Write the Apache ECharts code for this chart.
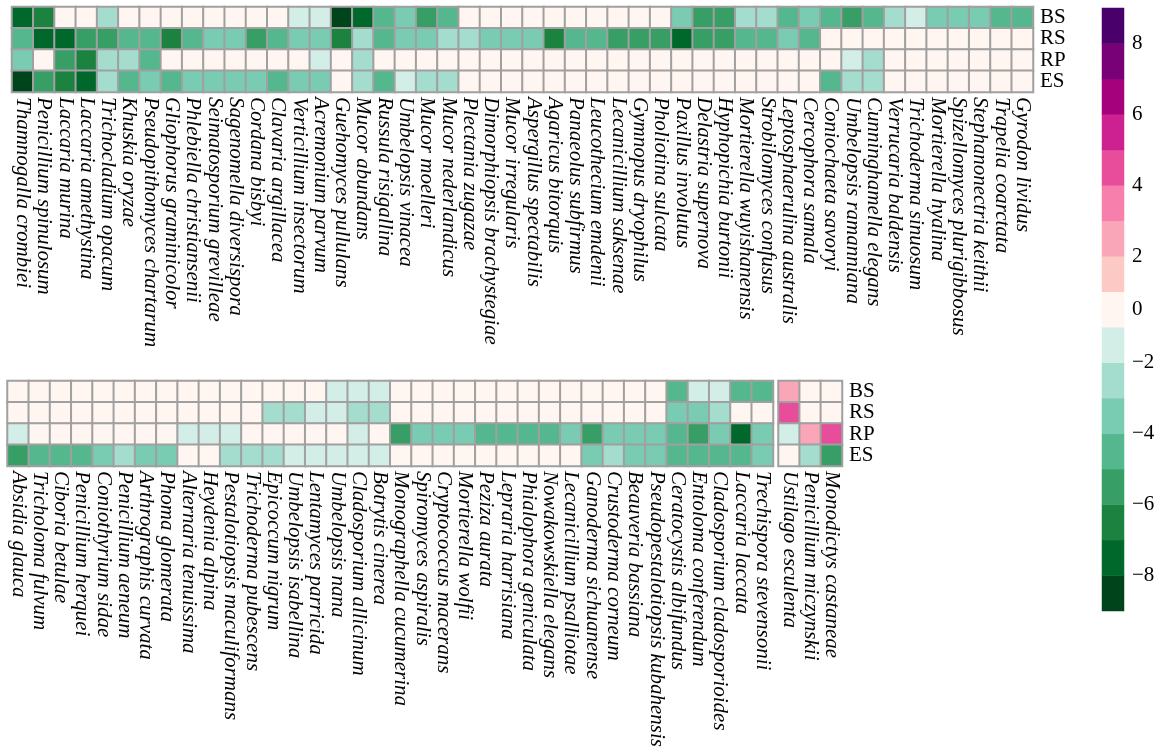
<!DOCTYPE html>
<html>
<head>
<meta charset="utf-8">
<script src="https://cdn.jsdelivr.net/npm/echarts@6/dist/echarts.min.js"></script>
<style>
  html, body { margin: 0; padding: 0; background: #ffffff; }
  #chart { width: 1161px; height: 755px; }
</style>
</head>
<body>
<div id="chart"></div>
<script>
// Compartments (rows, top to bottom)
const rowNames = ['BS', 'RS', 'RP', 'ES'];

// Upper block of taxa
const topTaxa = [
  'Thamnogalla crombiei', 'Penicillium spinulosum', 'Laccaria murina', 'Laccaria amethystina',
  'Trichocladium opacum', 'Khuskia oryzae', 'Pseudopithomyces chartarum', 'Gliophorus graminicolor',
  'Phlebiella christiansenii', 'Seimatosporium grevilleae', 'Sagenomella diversispora', 'Cordana bisbyi',
  'Clavaria argillacea', 'Verticillium insectorum', 'Acremonium parvum', 'Guehomyces pullulans',
  'Mucor abundans', 'Russula risigallina', 'Umbelopsis vinacea', 'Mucor moelleri',
  'Mucor nederlandicus', 'Plectania zugazae', 'Dimorphiopsis brachystegiae', 'Mucor irregularis',
  'Aspergillus spectabilis', 'Agaricus bitorquis', 'Panaeolus subfirmus', 'Leucothecium emdenii',
  'Lecanicillium saksenae', 'Gymnopus dryophilus', 'Pholiotina sulcata', 'Paxillus involutus',
  'Delastria supernova', 'Hyphopichia burtonii', 'Mortierella wuyishanensis', 'Strobilomyces confusus',
  'Leptosphaerulina australis', 'Cercophora samala', 'Coniochaeta savoryi', 'Umbelopsis ramanniana',
  'Cunninghamella elegans', 'Verrucaria baldensis', 'Trichoderma sinuosum', 'Mortierella hyalina',
  'Spizellomyces plurigibbosus', 'Stephanonectria keithii', 'Trapelia coarctata', 'Gyrodon lividus'
];
const topBS = [-7.5, -6.5, 0, 0, -2.5, 0, 0, 0, 0, 0, 0, 0, 0, -1.5, -1.5, -8.5,
  -7.5, -4.5, -3.5, -5.5, -4.5, 0, 0, 0, 0, 0, 0, 0, 0, 0, 0, -3.5,
  -5.5, -5.5, -2.5, -2.5, -4.5, -3.5, -4.5, -5.5, -4.5, -2.5, -1.5, -3.5, -3.5, -3.5, -4.5, -4.5];
const topRS = [-4.5, -7.5, -7.5, -5.5, -5.5, -4.5, -4.5, -6.5, -4.5, -3.5, -3.5, -5.5, -4.5, -3.5, -3.5, -6.5,
  -2.5, -4.5, -3.5, -3.5, -2.5, -2.5, -3.5, -3.5, -3.5, -6.5, -4.5, -4.5, -5.5, -5.5, -5.5, -7.5,
  -5.5, -5.5, -4.5, -4.5, -3.5, -4.5, 0, 0, 0, 0, 0, 0, 0, 0, 0, 0];
const topRP = [-3.5, 0, -5.5, -6.5, -2.5, -2.5, -4.5, 0, 0, 0, 0, 0, 0, 0, -1.5, 0,
  -2.5, 0, 0, 0, 0, 0, 0, 0, 0, 0, 0, 0, 0, 0, 0, 0,
  0, 0, 0, 0, 0, 0, 0, -1.5, -2.5, 0, 0, 0, 0, 0, 0, 0];
const topES = [-8.5, -5.5, -6.5, -7.5, -2.5, -4.5, -3.5, -4.5, -3.5, -3.5, -3.5, -3.5, -4.5, -3.5, -3.5, 0,
  -2.5, -4.5, -1.5, -2.5, -2.5, 0, 0, 0, 0, 0, 0, 0, 0, 0, 0, 0,
  0, 0, 0, 0, 0, 0, -4.5, -2.5, -2.5, 0, 0, 0, 0, 0, 0, 0];

// Lower block of taxa
const bottomTaxa = [
  'Absidia glauca', 'Tricholoma fulvum', 'Ciboria betulae', 'Penicillium herquei',
  'Coniothyrium sidae', 'Penicillium aeneum', 'Arthrographis curvata', 'Phoma glomerata',
  'Alternaria tenuissima', 'Heydenia alpina', 'Pestalotiopsis maculiformans', 'Trichoderma pubescens',
  'Epicoccum nigrum', 'Umbelopsis isabellina', 'Lentamyces parricida', 'Umbelopsis nana',
  'Cladosporium allicinum', 'Botrytis cinerea', 'Monographella cucumerina', 'Spiromyces aspiralis',
  'Cryptococcus macerans', 'Mortierella wolfii', 'Peziza aurata', 'Lepraria harrisiana',
  'Phialophora geniculata', 'Nowakowskiella elegans', 'Lecanicillium psalliotae', 'Ganoderma sichuanense',
  'Crustoderma corneum', 'Beauveria bassiana', 'Pseudopestalotiopsis kubahensis', 'Ceratocystis albifundus',
  'Entoloma conferendum', 'Cladosporium cladosporioides', 'Laccaria laccata', 'Trechispora stevensonii'
];
const bottomBS = [0, 0, 0, 0, 0, 0, 0, 0, 0, 0, 0, 0, 0, 0, 0, -1.5, -1.5, -1.5,
  0, 0, 0, 0, 0, 0, 0, 0, 0, 0, 0, 0, 0, -4.5, -1.5, -1.5, -4.5, -4.5];
const bottomRS = [0, 0, 0, 0, 0, 0, 0, 0, 0, 0, 0, 0, -2.5, -2.5, -1.5, -1.5, -2.5, -2.5,
  0, 0, 0, 0, 0, 0, 0, 0, 0, 0, 0, 0, 0, -3.5, -3.5, -2.5, 0, 0];
const bottomRP = [-1.5, 0, 0, 0, 0, 0, 0, 0, -1.5, -1.5, -1.5, 0, 0, 0, 0, 0, -1.5, 0,
  -5.5, -3.5, -3.5, -3.5, -4.5, -4.5, -4.5, -4.5, -3.5, -5.5, -3.5, -3.5, -3.5, -4.5, -5.5, -3.5, -7.5, -3.5];
const bottomES = [-5.5, -4.5, -4.5, -4.5, -3.5, -2.5, -3.5, -3.5, 0, 0, -2.5, -2.5, -2.5, -1.5, -1.5, -1.5, -1.5, -1.5,
  0, 0, 0, 0, 0, 0, 0, 0, 0, -3.5, -2.5, -3.5, -3.5, -4.5, -4.5, -4.5, -4.5, -3.5];

// Separate small block
const sideTaxa = ['Ustilago esculenta', 'Penicillium miczynskii', 'Monodictys castaneae'];
const sideBS = [2.5, 0, 0];
const sideRS = [4.5, 0, 0];
const sideRP = [-1.5, 2.5, 4.5];
const sideES = [0, -2.5, -5.5];

// Colour scale: 17 bins, the centre bin spans -1..1
const binEdges = [-9, -8, -7, -6, -5, -4, -3, -2, -1, 1, 2, 3, 4, 5, 6, 7, 8, 9];
const binColors = ['#00441b', '#00682a', '#1c8240', '#379e66', '#55b78e', '#79cbb2', '#a4dcce', '#d3eee7',
  '#fff5f1', '#fcc9c4', '#f9a6b8', '#f67fab', '#e74d9b', '#cd2091', '#a5017d', '#790177', '#4a006a'];
const barTickLabels = ['\u22128', '\u22126', '\u22124', '\u22122', '0', '2', '4', '6', '8'];

// ---------------------------------------------------------------
const serif = "'Liberation Serif', 'Times New Roman', serif";

function cells(rows) {
  const out = [];
  rows.forEach(function (row, r) {
    row.forEach(function (v, c) { out.push([c, r, v]); });
  });
  return out;
}

const pieces = binColors.map(function (col, i) {
  return { gte: binEdges[i], lt: binEdges[i + 1], color: col };
});
pieces[pieces.length - 1].lte = binEdges[binEdges.length - 1];
delete pieces[pieces.length - 1].lt;

// colour bar: one cell per bin, valued at the bin centre
const barBins = binColors.map(function (c, i) { return String(i); });
const barCells = binColors.map(function (c, i) {
  return [0, i, (binEdges[i] + binEdges[i + 1]) / 2];
});
// label positions measured in bin units along the bar
const barLabelPos = {};
barTickLabels.forEach(function (t, k) {
  const v = k < 4 ? -8 + 2 * k : (k === 4 ? 0 : 2 * (k - 4));
  let pos;
  if (v === 0) pos = 8.5;
  else if (v < 0) pos = v + 9;
  else pos = v + 8;
  barLabelPos[pos] = t;
});

const cellStyle = { borderColor: '#a0a0a0', borderWidth: 2 };

function taxonAxis(grid, names) {
  return {
    type: 'category', gridIndex: grid, data: names, position: 'bottom',
    axisLine: { show: false }, axisTick: { show: false }, splitLine: { show: false },
    axisLabel: {
      interval: 0, rotate: -90, margin: 5, color: '#000',
      fontFamily: serif, fontStyle: 'italic', fontSize: 21
    }
  };
}
function rowAxis(grid, showLabels) {
  return {
    type: 'category', gridIndex: grid, data: rowNames, inverse: true, position: 'right',
    axisLine: { show: false }, axisTick: { show: false }, splitLine: { show: false },
    axisLabel: { show: showLabels, interval: 0, margin: 7, color: '#000', fontFamily: serif, fontSize: 21 }
  };
}

const option = {
  animation: false,
  backgroundColor: '#ffffff',
  grid: [
    { left: 12, top: 7, width: 1021, height: 85 },
    { left: 7.5, top: 381, width: 765.5, height: 85 },
    { left: 778.5, top: 381, width: 63.5, height: 85 },
    { left: 1102, top: 8, width: 22, height: 603 }
  ],
  xAxis: [
    taxonAxis(0, topTaxa),
    taxonAxis(1, bottomTaxa),
    taxonAxis(2, sideTaxa),
    { type: 'category', gridIndex: 3, data: ['bar'], show: false }
  ],
  yAxis: [
    rowAxis(0, true),
    rowAxis(1, false),
    rowAxis(2, true),
    { type: 'category', gridIndex: 3, data: barBins, show: false },
    {
      type: 'value', gridIndex: 3, position: 'right', min: 0, max: 17, interval: 0.5,
      axisLine: { show: false }, axisTick: { show: false }, splitLine: { show: false },
      axisLabel: {
        margin: 8, color: '#000', fontFamily: serif, fontSize: 21,
        formatter: function (v) { return barLabelPos[v] !== undefined ? barLabelPos[v] : ''; }
      }
    }
  ],
  visualMap: {
    type: 'piecewise', show: false, dimension: 2,
    seriesIndex: [0, 1, 2, 3], pieces: pieces
  },
  series: [
    { type: 'heatmap', xAxisIndex: 0, yAxisIndex: 0, silent: true, itemStyle: cellStyle,
      data: cells([topBS, topRS, topRP, topES]) },
    { type: 'heatmap', xAxisIndex: 1, yAxisIndex: 1, silent: true, itemStyle: cellStyle,
      data: cells([bottomBS, bottomRS, bottomRP, bottomES]) },
    { type: 'heatmap', xAxisIndex: 2, yAxisIndex: 2, silent: true, itemStyle: cellStyle,
      data: cells([sideBS, sideRS, sideRP, sideES]) },
    { type: 'heatmap', xAxisIndex: 3, yAxisIndex: 3, silent: true,
      itemStyle: { borderWidth: 0 }, data: barCells }
  ]
};

const chart = echarts.init(document.getElementById('chart'), null, { renderer: 'canvas' });
chart.setOption(option);
</script>
</body>
</html>
